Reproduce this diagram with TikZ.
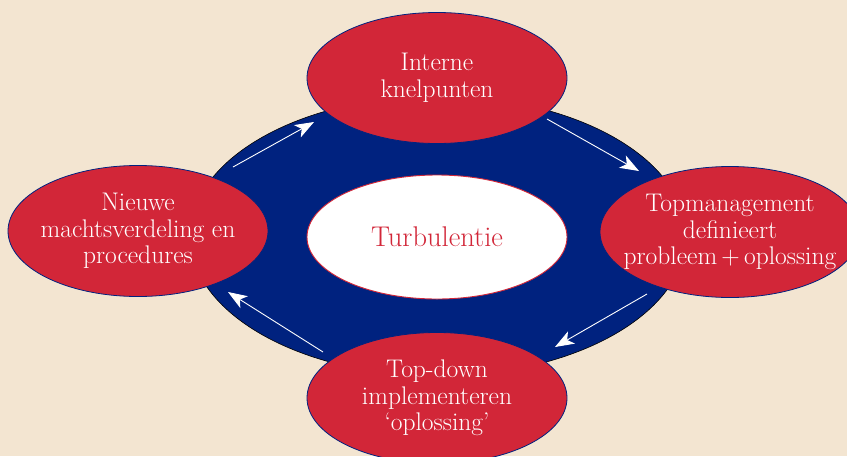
\documentclass[tikz,border=0pt]{standalone}
\usepackage{fontspec}
\usepackage{tikz}
\usetikzlibrary{shapes.geometric,arrows.meta}
\definecolor{paper}{HTML}{F3E5D1}
\definecolor{ringblue}{HTML}{00227F}
\definecolor{phasered}{HTML}{D22638}
\tikzset{
  phase/.style={ellipse, draw=ringblue, line width=0.8pt, fill=phasered, text=white,
    minimum width=260pt, minimum height=131pt, inner xsep=-25pt, inner ysep=0pt, align=center,
    font=\fontsize{25.5}{26.5}\selectfont},
  flow/.style={draw=white, line width=0.9pt, -{Stealth[length=19pt,width=14pt,inset=5pt]}}
}
\begin{document}
\begin{tikzpicture}[x=1pt,y=-1pt]
        \clip (0,0) rectangle (847,456);
        \fill[paper] (0,0) rectangle (847,456);

        \path
        (438,236) node[ellipse, draw=black, line width=0.6pt, fill=ringblue,
          minimum width=496pt, minimum height=280pt](ring) {}
        (437,237) node[ellipse, draw=phasered, line width=0.9pt, fill=white, text=phasered,
          minimum width=260pt, minimum height=124pt, font=\fontsize{28.5}{30}\selectfont](core) {Turbulentie}
        (437,78) node[phase](intern) {Interne\\knelpunten}
        (730,232) node[phase](top) {Topmanagement\\definieert\\probleem\,+\,oplossing}
        (437,398) node[phase](impl) {Top-down\\implementeren\\`oplossing'}
        (138,231) node[phase](nieuw) {Nieuwe\\machtsverdeling en\\procedures}
        (233,167) coordinate(a1s) (314,122) coordinate(a1e)
        (547,119) coordinate(a2s) (639,171) coordinate(a2e)
        (647,294) coordinate(a3s) (555,347) coordinate(a3e)
        (323,352) coordinate(a4s) (228,292) coordinate(a4e)
        ;

        \draw[flow] (a1s) -- (a1e);
        \draw[flow] (a2s) -- (a2e);
        \draw[flow] (a3s) -- (a3e);
        \draw[flow] (a4s) -- (a4e);
      \end{tikzpicture}
\end{document}
